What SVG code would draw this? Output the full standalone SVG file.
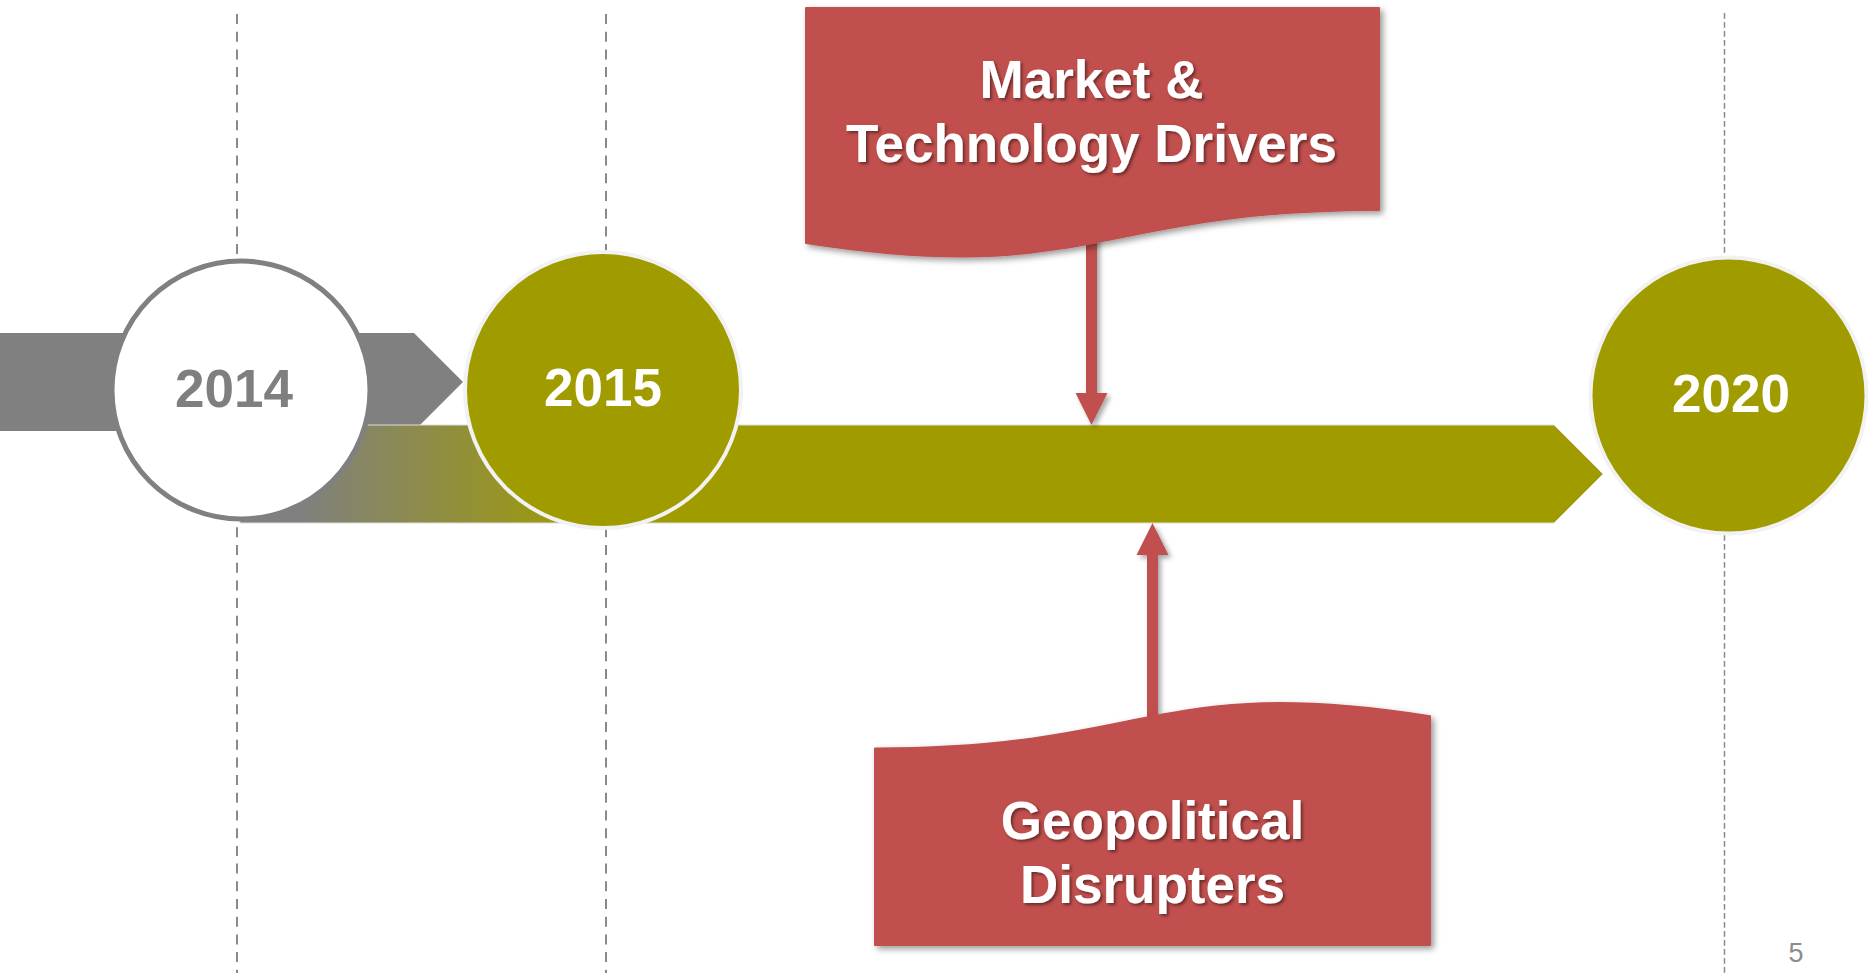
<svg xmlns="http://www.w3.org/2000/svg" width="1872" height="973" viewBox="0 0 1872 973">
  <defs>
    <style>
      .dash { stroke: #8a8a8a; fill: none; }
      .yr { font-family: "Liberation Sans", Arial, sans-serif; font-weight: bold; font-size: 53px; text-anchor: middle; }
      .cap { font-family: "Liberation Sans", Arial, sans-serif; font-weight: bold; font-size: 53px; text-anchor: middle; fill: #ffffff; filter: url(#tshadow); }
      .box { fill: #c0504d; stroke: #c0504d; stroke-width: 2; stroke-linejoin: round; filter: url(#bshadow); }
      .olive { fill: #a09c00; }
      .conn { stroke: #c0504d; stroke-width: 11; fill: none; marker-end: url(#head); }
    </style>
    <filter id="bshadow" x="-10%" y="-10%" width="125%" height="130%">
      <feDropShadow dx="3" dy="3" stdDeviation="3" flood-color="#000" flood-opacity="0.4"/>
    </filter>
    <filter id="ashadow" x="-50%" y="-10%" width="200%" height="130%">
      <feDropShadow dx="3" dy="3" stdDeviation="2.5" flood-color="#000" flood-opacity="0.35"/>
    </filter>
    <filter id="tshadow" x="-10%" y="-20%" width="120%" height="150%">
      <feDropShadow dx="2" dy="2" stdDeviation="1.5" flood-color="#000" flood-opacity="0.45"/>
    </filter>
    <linearGradient id="barGrad" gradientUnits="userSpaceOnUse" x1="300" y1="0" x2="590" y2="0">
      <stop offset="0" stop-color="#808080"/>
      <stop offset="1" stop-color="#a09c00"/>
    </linearGradient>
    <marker id="head" markerUnits="userSpaceOnUse" markerWidth="34" markerHeight="34" refX="0" refY="17" orient="auto" viewBox="0 0 34 34">
      <path d="M0,1 L32,17 L0,33 Z" fill="#c0504d"/>
    </marker>
  </defs>

  <rect x="0" y="0" width="1872" height="973" fill="#ffffff"/>

  <g id="gridlines">
    <line class="dash" x1="237" y1="14" x2="237" y2="973" stroke-width="2" stroke-dasharray="10 7.7"/>
    <line class="dash" x1="606" y1="14" x2="606" y2="973" stroke-width="2" stroke-dasharray="10 7.7"/>
    <line class="dash" x1="1724.5" y1="13" x2="1724.5" y2="973" stroke-width="1.5" stroke-dasharray="5.7 3.3"/>
  </g>

  <g id="timeline-bars">
    <path id="gray-arrow" d="M0,333 L414,333 L463,382 L414,431 L0,431 Z" fill="#808080"/>
    <path id="olive-arrow" d="M240,425 L1554,425 L1603,474 L1554,523 L240,523 Z" fill="url(#barGrad)" stroke="#dcdcdc" stroke-width="1"/>
  </g>

  <g id="node-2014">
    <circle cx="241" cy="390" r="129" fill="#ffffff" stroke="#808080" stroke-width="5"/>
    <text class="yr" x="234" y="407" fill="#7f7f7f">2014</text>
  </g>

  <g id="node-2015">
    <circle class="olive" cx="603" cy="390" r="138" stroke="#f2f2f2" stroke-width="4"/>
    <text class="yr" x="603" y="406" fill="#ffffff">2015</text>
  </g>

  <g id="node-2020">
    <circle class="olive" cx="1728.5" cy="395.5" r="138" stroke="#f2f2f2" stroke-width="4"/>
    <text class="yr" x="1731" y="412" fill="#ffffff">2020</text>
  </g>

  <g id="connectors" filter="url(#ashadow)">
    <path class="conn" d="M1091.5,230 L1091.5,393"/>
    <path class="conn" d="M1152.5,720 L1152.5,555"/>
  </g>

  <g id="node-drivers">
    <path class="box" d="M806,8 L1379,8 L1379,210 C1092.5,210 1092.5,287 806,243 Z"/>
    <text class="cap" x="1091.5" y="98">Market &amp;</text>
    <text class="cap" x="1091.5" y="162">Technology Drivers</text>
  </g>

  <g id="node-disrupters">
    <path class="box" d="M1430,945 L875,945 L875,748.5 C1152.5,748.5 1152.5,673.5 1430,716.2 Z"/>
    <text class="cap" x="1152.5" y="839">Geopolitical</text>
    <text class="cap" x="1152.5" y="903">Disrupters</text>
  </g>

  <text id="page-number" x="1796" y="962" font-family="Liberation Sans, Arial, sans-serif" font-size="27" fill="#8c8c8c" text-anchor="middle">5</text>
</svg>
